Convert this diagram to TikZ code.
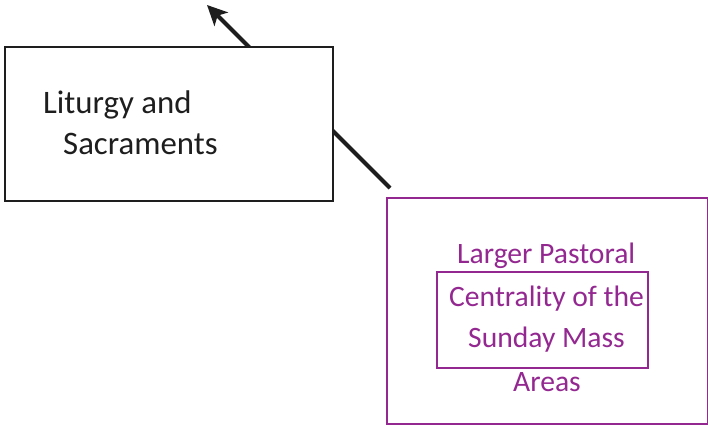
\documentclass[tikz,border=0pt]{standalone}
\usepackage{fontspec}
\setmainfont{Carlito}
\usetikzlibrary{arrows.meta}
\definecolor{plum}{RGB}{148,40,145}
\definecolor{ink}{RGB}{30,30,30}
\tikzset{
  blackbox/.style={draw=ink, line width=2pt, fill=white},
  plumbox/.style={draw=plum, line width=2pt},
  innerbox/.style={draw=plum, line width=2.6pt},
  blacktext/.style={anchor=base west, inner sep=0pt, text=ink, font=\fontsize{32.8}{36}\selectfont},
  plumtext/.style={anchor=base west, inner sep=0pt, text=plum, font=\fontsize{29.6}{33}\selectfont},
  link/.style={draw=ink, line width=4pt, -{Stealth[length=20pt,width=19pt,inset=5pt]}}
}
\begin{document}
\begin{tikzpicture}[x=1pt,y=-1pt]
\useasboundingbox (0,0) rectangle (708,428);
% connector, partly hidden behind the left box
\coordinate (from) at (390,188);
\coordinate (to) at (207,5);
\draw[link] (from) -- (to);
% left box
\node[blackbox, minimum width=328pt, minimum height=154pt, inner sep=0pt, anchor=north west] (lit) at (4,46) {};
\node[blacktext] (lit1) at (43,113) {Liturgy and};
\node[blacktext] (lit2) at (63,154) {Sacraments};
% right box with nested box
\node[plumbox, minimum width=321pt, minimum height=226pt, inner sep=0pt, anchor=north west] (areas) at (385.5,196.5) {};
\node[innerbox, minimum width=211pt, minimum height=96pt, inner sep=0pt, anchor=north west] (mass) at (435.5,270.5) {};
\node[plumtext] (t1) at (457,263) {Larger Pastoral};
\node[plumtext] (t2) at (449,306) {Centrality of the};
\node[plumtext] (t3) at (468,347) {Sunday Mass};
\node[plumtext] (t4) at (513,391) {Areas};
\end{tikzpicture}
\end{document}
